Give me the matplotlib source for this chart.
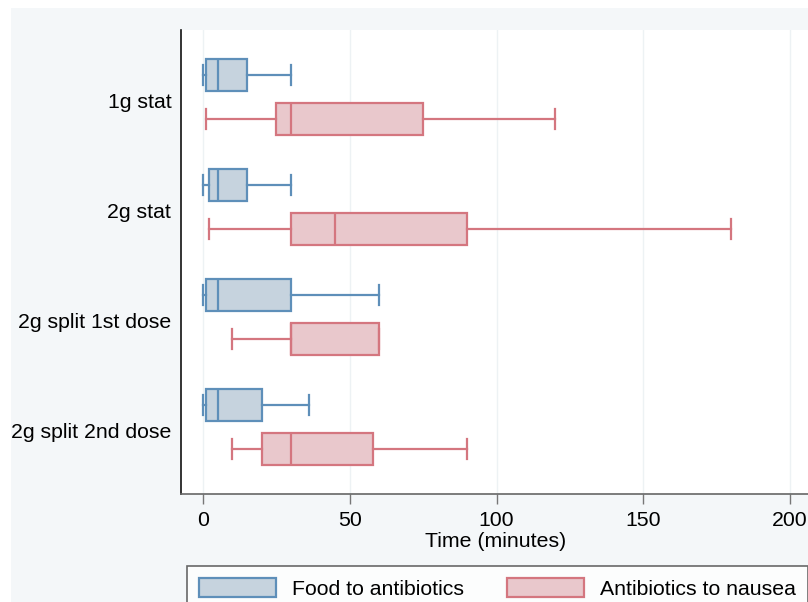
"""Boxplots of timing: food to antibiotics vs antibiotics to nausea, by regimen."""
import matplotlib.pyplot as plt
from matplotlib.patches import Patch, Rectangle

plt.rcParams['font.family'] = ['Liberation Sans', 'DejaVu Sans']

groups = ['1g stat', '2g stat', '2g split 1st dose', '2g split 2nd dose']
series = ['Food to antibiotics', 'Antibiotics to nausea']

# five-number summaries (minutes)
food_lo = [0, 0, 0, 0]
food_q1 = [1, 2, 1, 1]
food_med = [5, 5, 5, 5]
food_q3 = [15, 15, 30, 20]
food_hi = [30, 30, 60, 36]

naus_lo = [1, 2, 10, 10]
naus_q1 = [25, 30, 30, 20]
naus_med = [30, 45, 30, 30]
naus_q3 = [75, 90, 60, 58]
naus_hi = [120, 180, 60, 90]

xticks = [0, 50, 100, 150, 200]

blue_edge, blue_fill = '#5e8fb9', '#c6d3de'
red_edge, red_fill = '#d4767f', '#e9c8cc'
bg = '#f4f7f9'
fs = 15.3

W, H = 808, 602
fig = plt.figure(figsize=(W / 100, H / 100), dpi=100)
fig.patch.set_facecolor('white')
fig.patches.append(Rectangle((11 / W, 0), 1, 1 - 8 / H, transform=fig.transFigure,
                             facecolor=bg, edgecolor='none', zorder=-10))

ax = fig.add_axes([181 / W, 1 - 494 / H, 1 - 181 / W, (494 - 30) / H])
ax.set_facecolor('white')


def stats(lo, q1, med, q3, hi):
    return [dict(whislo=a, q1=b, med=c, q3=d, whishi=e, fliers=[])
            for a, b, c, d, e in zip(lo, q1, med, q3, hi)]


pos = list(range(1, len(groups) + 1))
off = 0.2
bw = 0.286
for st, shift, ec, fc in [(stats(food_lo, food_q1, food_med, food_q3, food_hi), -off, blue_edge, blue_fill),
                          (stats(naus_lo, naus_q1, naus_med, naus_q3, naus_hi), off, red_edge, red_fill)]:
    ax.bxp(st, positions=[p + shift for p in pos], widths=bw, vert=False,
           patch_artist=True, showfliers=False, capwidths=0.19,
           boxprops=dict(facecolor=fc, edgecolor=ec, linewidth=1.6),
           medianprops=dict(color=ec, linewidth=1.6),
           whiskerprops=dict(color=ec, linewidth=1.6),
           capprops=dict(color=ec, linewidth=1.6))

ax.set_ylim(4.609, 0.391)
ax.set_yticks([p + 0.03 for p in pos])
ax.set_yticklabels(groups, fontsize=fs)
ax.tick_params(axis='y', length=0, pad=7)

ax.set_xlim(-7.5, 206.1)
ax.set_xticks(xticks)
ax.set_xticklabels([str(t) for t in xticks], fontsize=fs)
ax.tick_params(axis='x', length=7, width=1, color='#777777', pad=5)
ax.set_xlabel('Time (minutes)', fontsize=fs)
ax.xaxis.set_label_coords((496 - 181) / (W - 181), -(532 - 494) / (494 - 30))
ax.xaxis.label.set_va('top')
ax.grid(axis='x', color='#edf2f4', linewidth=1)
ax.set_axisbelow(True)

for s in ['top', 'right']:
    ax.spines[s].set_visible(False)
ax.spines['left'].set_color('#111111')
ax.spines['left'].set_linewidth(1.2)
ax.spines['bottom'].set_color('#666666')
ax.spines['bottom'].set_linewidth(1.2)

handles = [Patch(facecolor=blue_fill, edgecolor=blue_edge, linewidth=1.6),
           Patch(facecolor=red_fill, edgecolor=red_edge, linewidth=1.6)]
leg = fig.legend(handles, series, loc='upper left', bbox_to_anchor=(187 / W, 1 - 566 / H),
                 borderaxespad=0, ncol=2, fontsize=fs, frameon=True, fancybox=False,
                 handlelength=3.65, handleheight=1.05, columnspacing=2.0,
                 borderpad=0.55, handletextpad=0.75)
leg.get_frame().set_edgecolor('#444444')
leg.get_frame().set_linewidth(1.2)

fig.savefig('out.png', dpi=100)
